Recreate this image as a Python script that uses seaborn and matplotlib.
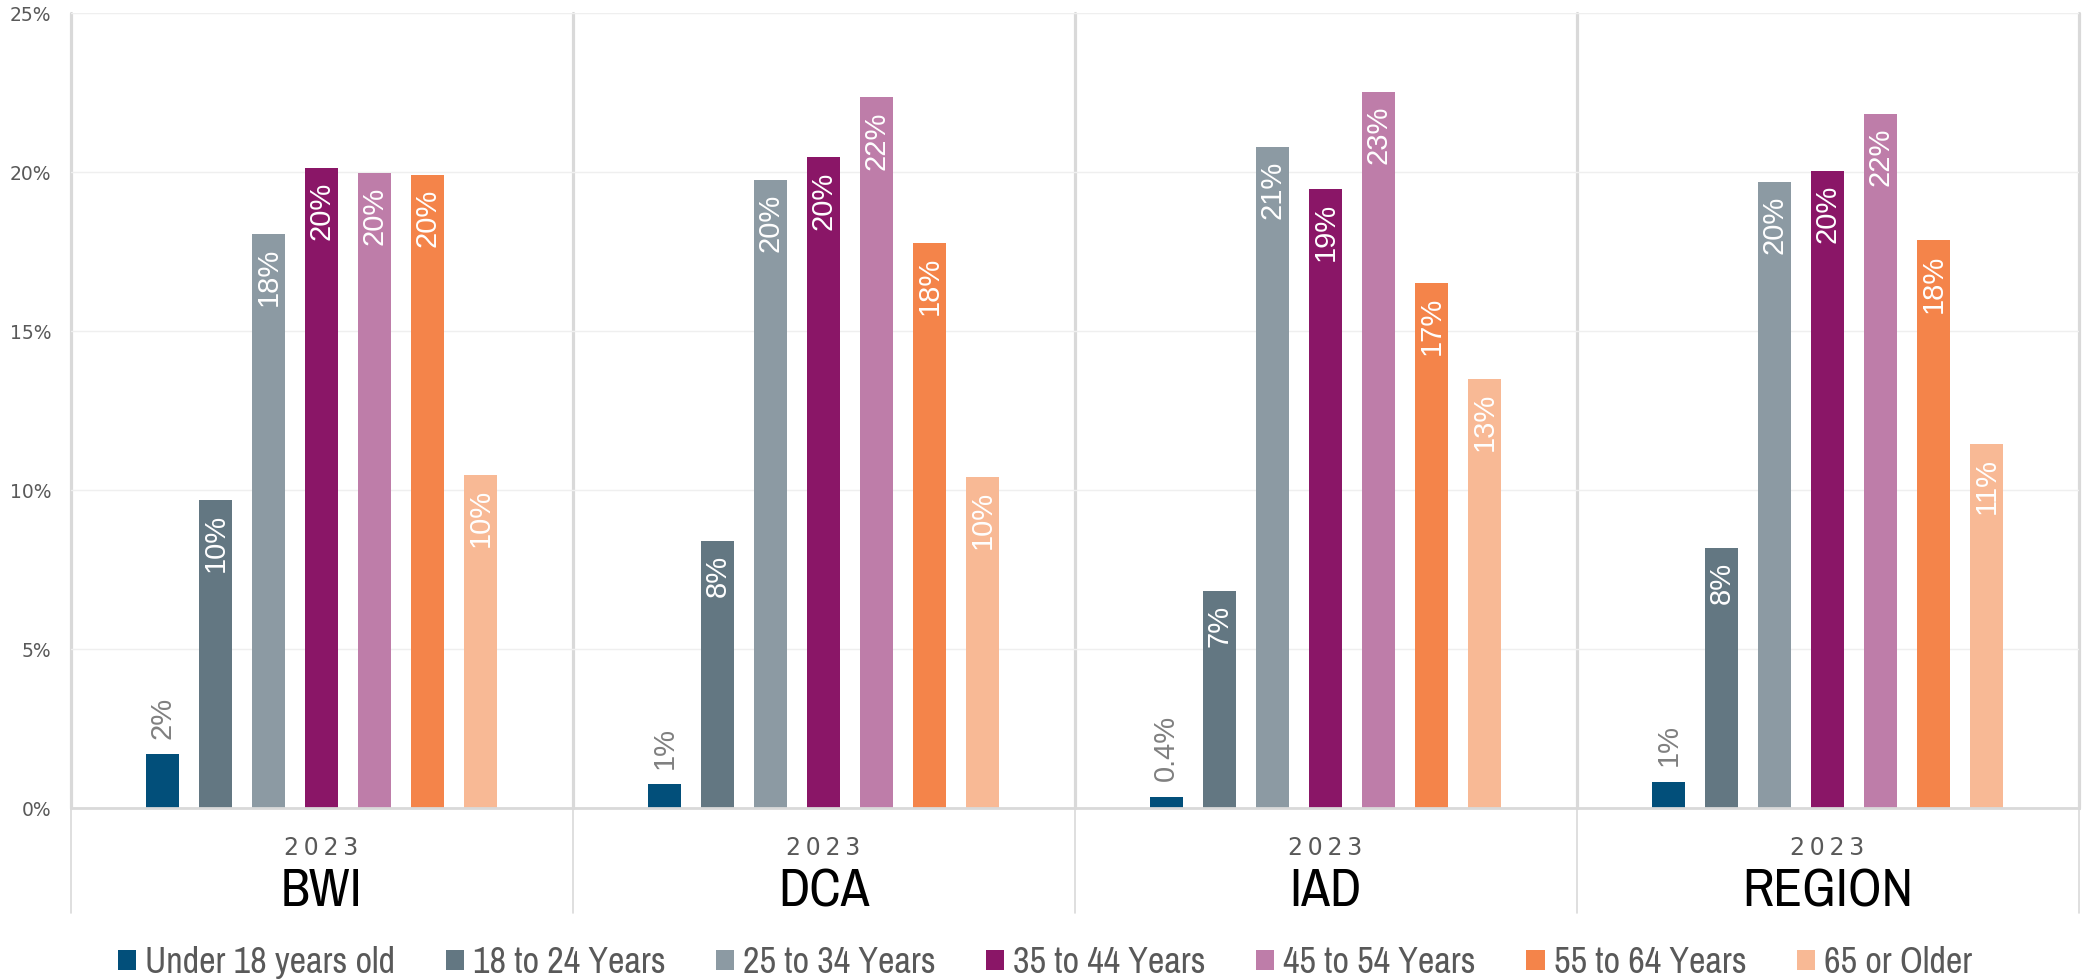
import pandas as pd
import numpy as np
import seaborn as sns
import matplotlib.pyplot as plt

# values (percent of passengers)
airports = ["BWI", "DCA", "IAD", "REGION"]
year = "2023"
age_groups = ["Under 18 years old", "18 to 24 Years", "25 to 34 Years", "35 to 44 Years",
              "45 to 54 Years", "55 to 64 Years", "65 or Older"]
under_18 = [1.70, 0.74, 0.36, 0.83]
age_18_24 = [9.69, 8.40, 6.83, 8.18]
age_25_34 = [18.04, 19.74, 20.80, 19.70]
age_35_44 = [20.12, 20.46, 19.48, 20.04]
age_45_54 = [19.97, 22.35, 22.51, 21.84]
age_55_64 = [19.92, 17.78, 16.52, 17.85]
age_65_up = [10.46, 10.41, 13.49, 11.44]
colors = ["#024F7A", "#637782", "#8C9AA3", "#8A1667", "#BE7DA9", "#F4844A", "#F8B995"]

series = [under_18, age_18_24, age_25_34, age_35_44, age_45_54, age_55_64, age_65_up]
rows = []
for grp, vals in zip(age_groups, series):
    for ap, v in zip(airports, vals):
        rows.append({"airport": ap, "age": grp, "share": v})
df = pd.DataFrame(rows)

sns.set_style("whitegrid")
plt.rcParams['font.family'] = ['Liberation Sans', 'DejaVu Sans']
narrow = ['Archivo Narrow', 'Liberation Sans']
wide = ['DejaVu Sans']

fig, ax = plt.subplots(figsize=(20.9, 9.8), dpi=100)
fig.subplots_adjust(left=0.0338, right=0.9945, top=0.9867, bottom=0.1755)

sns.barplot(data=df, x="airport", y="share", hue="age", order=airports, hue_order=age_groups,
            palette=colors, saturation=1, width=0.74, gap=0.38, errorbar=None,
            linewidth=0, ax=ax)

# bar labels: inside the top for tall bars, above for the small ones
for cont in ax.containers:
    for p in cont:
        h = p.get_height()
        x = p.get_x() + p.get_width() / 2
        txt = f"{h:.1f}%" if h < 0.5 else f"{h:.0f}%"
        if h > 3:
            ax.annotate(txt, (x, h), xytext=(0, -10), textcoords="offset points", rotation=90,
                        ha="center", va="top", color="white", fontsize=21)
        else:
            ax.annotate(txt, (x, h), xytext=(0, 11), textcoords="offset points", rotation=90,
                        ha="center", va="bottom", color="#808080", fontsize=21)

ax.set_ylim(0, 25)
ax.set_xlim(-0.5, 3.5)
ax.set_yticks(np.arange(0, 26, 5))
ax.set_yticklabels([f"{t}%" for t in range(0, 26, 5)], fontsize=13.5, color="#595959",
                   family=wide)
ax.tick_params(axis="y", length=0, pad=14)
ax.set_xticks(range(len(airports)))
ax.set_xticklabels(["\u2009".join(year)] * len(airports), fontsize=17, color="#595959",
                   family=wide)
ax.tick_params(axis="x", length=0, pad=20)
ax.set_xlabel("")
ax.set_ylabel("")
ax.grid(axis="y", color="#efefef", lw=1)
ax.grid(axis="x", visible=False)
for s in ["left", "right", "top"]:
    ax.spines[s].set_visible(False)
ax.spines["bottom"].set_color("#d9d9d9")
ax.spines["bottom"].set_linewidth(2)

# group dividers running down through the category labels
tr = ax.get_xaxis_transform()
for xb in np.arange(-0.5, len(airports), 1.0):
    ax.plot([xb, xb], [0, 1], transform=tr, color="#d9d9d9", lw=2.3, clip_on=False, zorder=0)
    ax.plot([xb, xb], [-0.132, 0], transform=tr, color="#d9d9d9", lw=1.2, clip_on=False)

for i, ap in enumerate(airports):
    ax.text(i, -0.105, ap, transform=tr, ha="center", va="center", fontsize=38,
            color="black", family=narrow)

handles, labels = ax.get_legend_handles_labels()
ax.get_legend().remove()
fig.legend(handles, labels, loc="center", bbox_to_anchor=(0.5, 0.018), ncol=7, frameon=False,
           prop={"family": narrow, "size": 26}, labelcolor="#595959",
           handlelength=0.5, handleheight=0.5, handletextpad=0.25, columnspacing=1.4)

plt.savefig("out.png", dpi=100)
